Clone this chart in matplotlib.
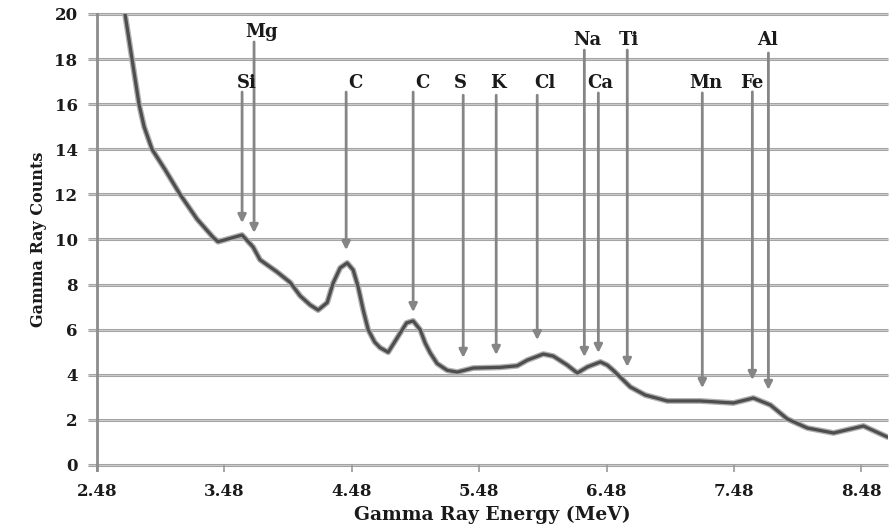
import matplotlib
matplotlib.use("Agg")
import matplotlib.pyplot as plt
import matplotlib.patheffects as pe

# ---- data ----
energy = [2.69, 2.700, 2.755, 2.810, 2.850, 2.912, 3.014, 3.132, 3.266, 3.391, 3.430, 3.525,
          3.619, 3.705, 3.760, 3.894, 3.996, 4.075, 4.153, 4.216, 4.287, 4.334, 4.389,
          4.444, 4.491, 4.530, 4.570, 4.609, 4.660, 4.703, 4.766, 4.860, 4.910, 4.962,
          5.017, 5.057, 5.096, 5.150, 5.229, 5.308, 5.434, 5.646, 5.779, 5.858, 5.984,
          6.062, 6.172, 6.251, 6.330, 6.432, 6.486, 6.533, 6.667, 6.785, 6.958, 7.216,
          7.476, 7.633, 7.767, 7.900, 8.057, 8.262, 8.497, 8.686]
counts = [20.5, 20.0, 18.0, 16.0, 15.0, 14.0, 13.1, 12.0, 10.9, 10.1, 9.9, 10.05,
          10.2, 9.67, 9.1, 8.56, 8.1, 7.5, 7.1, 6.87, 7.2, 8.07, 8.74,
          8.96, 8.65, 7.9, 6.87, 6.0, 5.45, 5.2, 5.0, 5.85, 6.3, 6.39,
          6.0, 5.4, 4.97, 4.5, 4.2, 4.12, 4.3, 4.33, 4.4, 4.65, 4.92,
          4.83, 4.43, 4.08, 4.35, 4.57, 4.43, 4.2, 3.46, 3.1, 2.84, 2.84,
          2.75, 2.97, 2.66, 2.04, 1.64, 1.42, 1.73, 1.24]

elements = ["Si", "Mg", "C", "C", "S", "K", "Cl", "Na", "Ca", "Ti", "Mn", "Fe", "Al"]
line_energy = [3.619, 3.713, 4.436, 4.962, 5.355, 5.614, 5.936, 6.306, 6.416, 6.643,
               7.232, 7.625, 7.751]
arrow_tip = [10.73, 10.29, 9.53, 6.78, 4.75, 4.88, 5.54, 4.79, 4.97, 4.35, 3.41, 3.77, 3.33]

xticks = [2.48, 3.48, 4.48, 5.48, 6.48, 7.48, 8.48]
yticks = [0, 2, 4, 6, 8, 10, 12, 14, 16, 18, 20]

# ---- layout ----
label_dx = [0.04, 0.06, 0.07, 0.07, -0.02, 0.015, 0.06, 0.02, 0.015, 0.015, 0.03, -0.005, -0.008]
label_y = [16.94, 19.2, 16.94, 16.94, 16.94, 16.94, 16.94, 18.85, 16.94, 18.85, 16.94, 16.94, 18.85]
arrow_top = [16.54, 18.76, 16.54, 16.54, 16.4, 16.4, 16.4, 18.4, 16.5, 18.4, 16.5, 16.55, 18.27]

serif = ["DejaVu Serif"]
fig = plt.figure(figsize=(8.94, 5.24), dpi=100)
ax = fig.add_axes([0.1085, 0.1126, 0.8848, 0.8607])
ax.set_xlim(2.48, 8.69)
ax.set_ylim(0, 20)

for s in ["top", "right", "bottom"]:
    ax.spines[s].set_visible(False)
ax.spines["left"].set_color("#8c8c8c")
ax.spines["left"].set_linewidth(2)
ax.spines["left"].set_bounds(-0.2, 20)

# gridlines
for yv in yticks:
    ax.plot([2.41, 8.69], [yv, yv], color="#a4a4a4", lw=2.2, clip_on=False, zorder=1,
            solid_capstyle="butt")
    ax.plot([2.41, 8.69], [yv, yv], color="#dcdcdc", lw=0.5, clip_on=False, zorder=1)

ax.set_xticks(xticks)
ax.set_xticklabels([f"{t:.2f}" for t in xticks])
ax.set_yticks(yticks)
ax.tick_params(axis="x", length=5, width=1.2, color="#9a9a9a", pad=8)
ax.tick_params(axis="y", length=0, pad=14)
for lab in ax.get_xticklabels() + ax.get_yticklabels():
    lab.set_fontfamily(serif)
    lab.set_fontweight("bold")
    lab.set_fontsize(12)
    lab.set_color("#1a1a1a")

# curve
ax.plot(energy, counts, color="#4e4e4e", lw=2.3, zorder=5, solid_joinstyle="round",
        solid_capstyle="round",
        path_effects=[pe.Stroke(linewidth=4.2, foreground="#b0b0b0"), pe.Normal()])

# arrows and labels
for name, e, tip, top, ly, dx in zip(elements, line_energy, arrow_tip, arrow_top,
                                     label_y, label_dx):
    ax.annotate("", xy=(e, tip), xytext=(e, top),
                arrowprops=dict(arrowstyle="-|>", color="#858585", lw=2.0,
                                mutation_scale=12, shrinkA=0, shrinkB=0),
                zorder=4)
    ax.text(e + dx, ly, name, ha="center", va="center",
            fontfamily=serif, fontweight="bold", fontsize=13, color="#1a1a1a", zorder=6)

ax.set_xlabel("Gamma Ray Energy (MeV)", fontfamily=serif, fontweight="bold",
              fontsize=13.5, color="#1a1a1a", labelpad=4)
ax.set_ylabel("Gamma Ray Counts", fontfamily=serif, fontweight="bold",
              fontsize=11.5, color="#1a1a1a", labelpad=5)

fig.savefig("out.png", dpi=100)
